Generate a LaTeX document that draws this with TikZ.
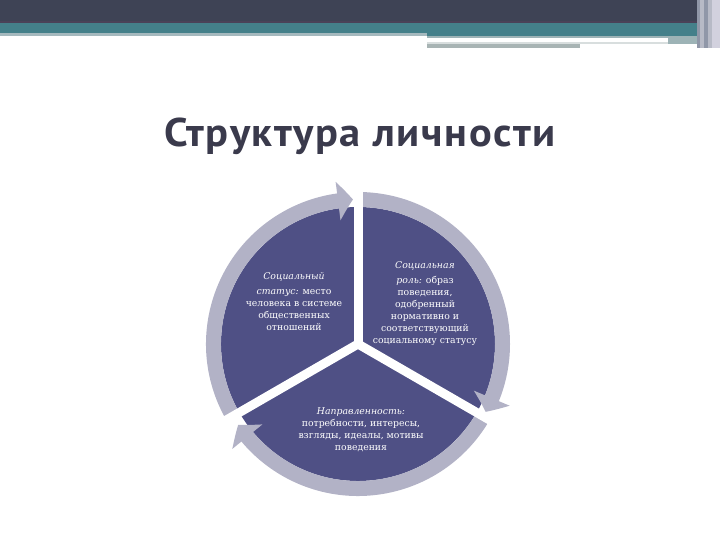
\documentclass[tikz,border=0pt]{standalone}
\usepackage{fontspec}
\setmainfont{DejaVu Serif}
\newfontfamily\titlefont[LetterSpace=4]{PT Sans}
\usetikzlibrary{arrows.meta,bending}

\definecolor{barcol}{RGB}{62,67,85}
\definecolor{barline}{RGB}{74,66,88}
\definecolor{tealcol}{RGB}{68,128,138}
\definecolor{paleteal}{RGB}{165,185,190}
\definecolor{greyteal}{RGB}{157,179,182}
\definecolor{paleline}{RGB}{216,222,222}
\definecolor{greyline}{RGB}{168,180,180}
\definecolor{stripa}{RGB}{144,151,168}
\definecolor{stripb}{RGB}{183,186,198}
\definecolor{stripc}{RGB}{210,209,222}
\definecolor{titlecol}{RGB}{58,58,76}
\definecolor{piecol}{RGB}{79,80,133}
\definecolor{ringcol}{RGB}{178,178,198}

\tikzset{
  pie/.style={fill=piecol},
  ring/.style={draw=ringcol, line width=15pt, -{Triangle[width=38pt,length=15pt,bend]}},
  gap/.style={draw=white, line width=9pt},
  sectortext/.style={text=white, align=center, font=\fontsize{9.3}{12}\selectfont},
}

\begin{document}
\begin{tikzpicture}[x=1pt,y=1pt]
  \useasboundingbox (0,0) rectangle (720,540);
  % top bars
  \fill[barcol] (0,518) rectangle (720,540);
  \fill[barline] (0,517) rectangle (720,519);
  \fill[tealcol] (0,507) rectangle (720,517);
  \fill[paleteal] (0,504) rectangle (427,507);
  \fill[tealcol] (427,504) rectangle (700,507);
  \fill[greyteal] (427,502) rectangle (700,504);
  \fill[greyteal] (668,496) rectangle (700,502);
  \fill[paleline] (427,496) rectangle (668,498);
  \fill[greyline] (427,492) rectangle (580,496);
  \fill[stripa] (697,492) rectangle (700,540);
  \fill[stripb] (700,492) rectangle (704,540);
  \fill[stripa] (704,492) rectangle (708,540);
  \fill[stripb] (708,492) rectangle (712,540);
  \fill[stripc] (712,492) rectangle (720,540);

  \node[anchor=base, text=titlecol, font=\titlefont\bfseries\fontsize{40}{48}\selectfont] (title) at (360,393) {\scalebox{1.06}[1]{Структура личности}};

  \coordinate (O) at (358,196);
  \coordinate (g1) at ([shift={(90:156)}]O);
  \coordinate (g2) at ([shift={(-30:156)}]O);
  \coordinate (g3) at ([shift={(210:156)}]O);

  \fill[pie] (O) circle (137);
  % arrows round the circle
  \draw[ring] ([shift={(210:144.5)}]O) arc (210:92:144.5);
  \draw[ring] ([shift={(90:144.5)}]O) arc (90:-28:144.5);
  \draw[ring] ([shift={(-30:144.5)}]O) arc (-30:-146:144.5);
  % gaps between the sectors
  \draw[gap] (O) -- (g1);
  \draw[gap] (O) -- (g2);
  \draw[gap] (O) -- (g3);

  \node[sectortext] (status) at (294,238) {{\itshape Социальный}\\[3pt]{\itshape статус:} место\\человека в системе\\общественных\\отношений};
  \node[sectortext] (role) at (425,236) {{\itshape Социальная}\\[3pt]{\itshape роль:} образ\\поведения,\\одобренный\\нормативно и\\соответствующий\\социальному статусу};
  \node[sectortext] (aim) at (361,110) {{\itshape Направленность:}\\потребности, интересы,\\взгляды, идеалы, мотивы\\поведения};
\end{tikzpicture}
\end{document}
